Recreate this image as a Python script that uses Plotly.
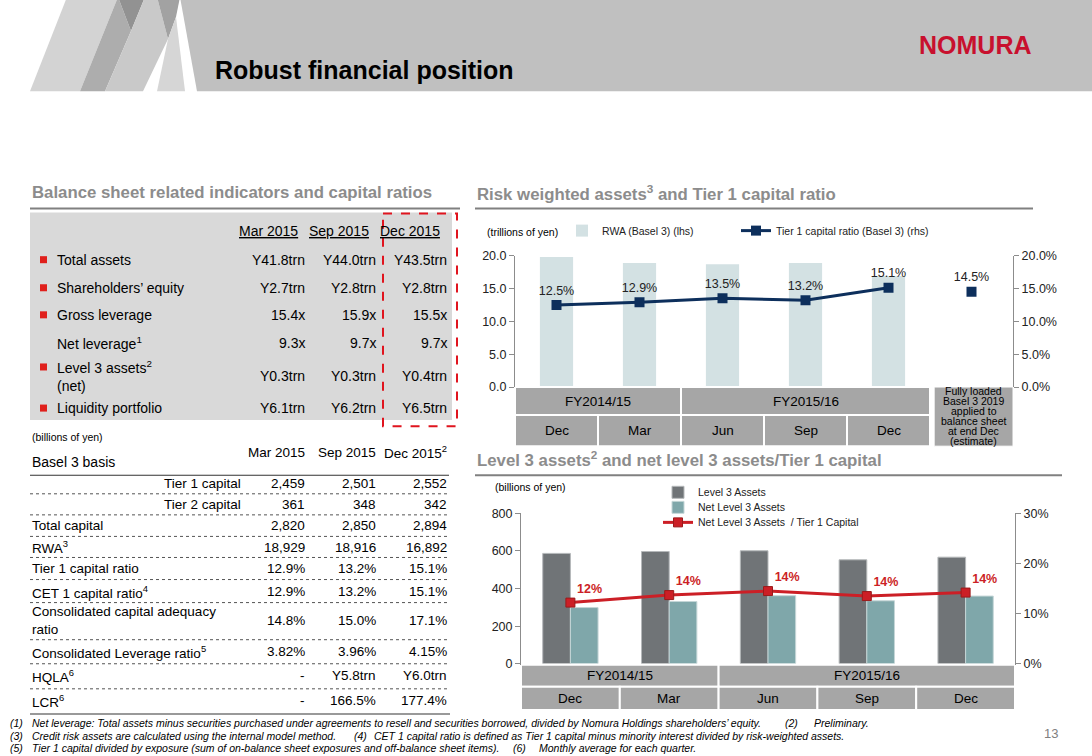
import plotly.graph_objects as go

W, H = 1092, 756          # reference picture size (all positions below are in these pixels)
FIG_H = 772               # figure height used to compensate for the page capture
def px(x): return x / W
def py(y): return 1 - y / H

FONT = "Liberation Sans, Arial, sans-serif"
NAVY = "#0d2f5c"
RED = "#cc1f26"
AXC = "#8c8c8c"
BOX = "#a6a6a6"

# ---------------- data ----------------
bs_periods = ["Mar 2015", "Sep 2015", "Dec 2015"]
bs_labels = ["Total assets", "Shareholders’ equity", "Gross leverage", "Net leverage<sup>1</sup>",
             "Level 3 assets<sup>2</sup><br>(net)", "Liquidity portfolio"]
bs_bullets = [True, True, True, False, True, True]
bs_mar = ["Y41.8trn", "Y2.7trn", "15.4x", "9.3x", "Y0.3trn", "Y6.1trn"]
bs_sep = ["Y44.0trn", "Y2.8trn", "15.9x", "9.7x", "Y0.3trn", "Y6.2trn"]
bs_dec = ["Y43.5trn", "Y2.8trn", "15.5x", "9.7x", "Y0.4trn", "Y6.5trn"]

cap_periods = ["Mar 2015", "Sep 2015", "Dec 2015<sup>2</sup>"]
cap_labels = ["Tier 1 capital", "Tier 2 capital", "Total capital", "RWA<sup>3</sup>", "Tier 1 capital ratio",
              "CET 1 capital ratio<sup>4</sup>", "Consolidated capital adequacy<br>ratio",
              "Consolidated Leverage ratio<sup>5</sup>", "HQLA<sup>6</sup>", "LCR<sup>6</sup>"]
cap_indent = [True, True, False, False, False, False, False, False, False, False]
cap_mar = ["2,459", "361", "2,820", "18,929", "12.9%", "12.9%", "14.8%", "3.82%", "-", "-"]
cap_sep = ["2,501", "348", "2,850", "18,916", "13.2%", "13.2%", "15.0%", "3.96%", "Y5.8trn", "166.5%"]
cap_dec = ["2,552", "342", "2,894", "16,892", "15.1%", "15.1%", "17.1%", "4.15%", "Y6.0trn", "177.4%"]

rwa_months = ["Dec", "Mar", "Jun", "Sep", "Dec"]
rwa_fy = ["FY2014/15", "FY2015/16"]
rwa_fy_span = [(0, 1), (2, 4)]
rwa_values = [19.8, 18.9, 18.7, 18.9, 16.9]
tier1_ratio = [12.5, 12.9, 13.5, 13.2, 15.1]
fully_loaded_ratio = 14.5
fully_loaded_label = ["Fully loaded", "Basel 3 2019", "applied to", "balance sheet", "at end Dec", "(estimate)"]
rwa_ticks = [0, 5, 10, 15, 20]
ratio_ticks = [0, 5, 10, 15, 20]

l3_months = ["Dec", "Mar", "Jun", "Sep", "Dec"]
l3_fy = ["FY2014/15", "FY2015/16"]
l3_fy_span = [(0, 1), (2, 4)]
level3_assets = [587, 597, 601, 553, 567]
net_level3_assets = [299, 331, 362, 335, 360]
net_l3_ratio = [12.2, 13.7, 14.5, 13.5, 14.2]
net_l3_labels = ["12%", "14%", "14%", "14%", "14%"]
l3_ticks = [0, 200, 400, 600, 800]
l3_ratio_ticks = [0, 10, 20, 30]

footnotes = [
    [(8, "(1)"), (30, "Net leverage: Total assets minus securities purchased under agreements to resell and securities borrowed, divided by Nomura Holdings shareholders’ equity."),
     (783, "(2)"), (812, "Preliminary.")],
    [(8, "(3)"), (30, "Credit risk assets are calculated using the internal model method."),
     (352, "(4)"), (372, "CET 1 capital ratio is defined as Tier 1 capital minus minority interest divided by risk-weighted assets.")],
    [(8, "(5)"), (30, "Tier 1 capital divided by exposure (sum of on-balance sheet exposures and off-balance sheet items)."),
     (511, "(6)"), (537, "Monthly average for each quarter.")],
]

# ---------------- figure ----------------
fig = go.Figure()
shapes = []
ann = []

def text(x, y, s, size=14, anchor="left", color="black", family=FONT, yanchor="middle", **kw):
    ann.append(dict(x=px(x), y=py(y), xref="paper", yref="paper", text=s, showarrow=False,
                    xanchor=anchor, yanchor=yanchor, align=anchor if anchor != "center" else "center",
                    font=dict(size=size, color=color, family=family), **kw))

def poly(points, color, layer="below"):
    path = "M " + " L ".join(f"{px(a)},{py(b)}" for a, b in points) + " Z"
    shapes.append(dict(type="path", path=path, xref="paper", yref="paper", fillcolor=color,
                       line=dict(width=0), layer=layer))

def hline(x0, x1, y, color, width=1, dash="solid"):
    shapes.append(dict(type="line", xref="paper", yref="paper", x0=px(x0), x1=px(x1), y0=py(y), y1=py(y),
                       line=dict(color=color, width=width, dash=dash)))

def rect(x0, x1, y0, y1, fill, line_color=None, lw=0, dash="solid"):
    shapes.append(dict(type="rect", xref="paper", yref="paper", x0=px(x0), x1=px(x1), y0=py(y0), y1=py(y1),
                       fillcolor=fill, line=dict(color=line_color or "rgba(0,0,0,0)", width=lw, dash=dash)))

# header decoration
poly([(180, -2), (1092, -2), (1092, 92), (197, 92)], "#c0c0c0")
poly([(30, 92), (67, -2), (118, -2), (80, 92)], "#d3d3d3")
poly([(80, 92), (118, -2), (131, 32), (105, 92)], "#adadad")
poly([(118, -2), (145, -2), (131, 32)], "#929292")
poly([(105, 92), (131, 32), (145, -2), (157, -2), (168, 40), (143, 92)], "#c9c9c9")
poly([(157, -2), (180, -2), (176, 18), (168, 40)], "#a2a2a2")
poly([(157, 92), (168, 40), (176, 18), (185, 92)], "#d6d6d6")
text(213, 71, "<b>Robust financial position</b>", size=25)
text(975, 46, "<b>NOMURA</b>", size=25, anchor="center", color="#c8102e")

# section titles
text(30, 193, "<b>Balance sheet related indicators and capital ratios</b>", size=16.8, color="#8c8c8c")
hline(30, 460, 209, "#808080", 2)
text(475, 193, "<b>Risk weighted assets<sup>3</sup> and Tier 1 capital ratio</b>", size=16.8, color="#8c8c8c")
hline(475, 1033, 209, "#808080", 2)
text(475, 459, "<b>Level 3 assets<sup>2</sup> and net level 3 assets/Tier 1 capital</b>", size=16.8, color="#8c8c8c")
hline(475, 1062, 475, "#808080", 2)

# ---- table 1 ----
rect(30, 452, 213, 420, "#d9d9d9")
rect(383, 457, 214, 426, "rgba(0,0,0,0)", "#e0141e", 2, "dash")
col_r = [307, 378, 449]
hdr_r = [300, 371, 442]
for i, p in enumerate(bs_periods):
    text(hdr_r[i], 231, f"<u>{p}</u>", size=14, anchor="right")
row_y1 = [260, 288, 315, 343, 376, 408]
for i, lab in enumerate(bs_labels):
    y = row_y1[i]
    text(55, y, lab, size=14)
    if bs_bullets[i]:
        by = y - 9 if "<br>" in lab else y
        rect(40, 47, by - 3.5, by + 3.5, "#e0201c")
    for j, vals in enumerate([bs_mar, bs_sep, bs_dec]):
        text(col_r[j], y, vals[i], size=14, anchor="right")

# ---- table 2 ----
text(30, 437, "(billions of yen)", size=10.5)
text(30, 462, "Basel 3 basis", size=14)
for j, p in enumerate(cap_periods):
    text(col_r[j], 452, p, size=13.5, anchor="right")
hline(30, 449, 475, "#333333", 1.2)
row_y2 = [483, 504, 525, 547, 568, 591, 620, 651, 675, 700]
sep_y2 = [493.5, 514.5, 536, 557, 579, 602, 639, 663, 688]
for i, lab in enumerate(cap_labels):
    y = row_y2[i]
    if cap_indent[i]:
        text(243, y, lab, size=13.5, anchor="right")
    else:
        text(30, y, lab, size=13.5)
    for j, vals in enumerate([cap_mar, cap_sep, cap_dec]):
        text(col_r[j], y, vals[i], size=13.5, anchor="right")
for y in sep_y2:
    hline(30, 449, y, "#555555", 1, "dot")
hline(30, 450, 713, "#999999", 2)

# ---- chart 1: RWA ----
xs = list(range(len(rwa_values)))
fig.add_trace(go.Bar(x=xs, y=rwa_values, name="RWA (Basel 3) (lhs)", width=0.4,
                     marker=dict(color="#d3e1e3", line=dict(width=0)), xaxis="x", yaxis="y", legend="legend"))
fig.add_trace(go.Scatter(x=xs, y=tier1_ratio, name="Tier 1 capital ratio (Basel 3) (rhs)",
                         mode="lines+markers+text", text=[f"{v:.1f}%" for v in tier1_ratio],
                         textposition="top center", textfont=dict(size=12.5, color="#222", family=FONT),
                         line=dict(color=NAVY, width=3), marker=dict(symbol="square", size=10, color=NAVY),
                         xaxis="x", yaxis="y2", legend="legend5"))
fig.add_trace(go.Scatter(x=[len(rwa_values)], y=[fully_loaded_ratio], mode="markers+text",
                         text=[f"{fully_loaded_ratio:.1f}%"], textposition="top center",
                         textfont=dict(size=12.5, color="#222", family=FONT),
                         marker=dict(symbol="square", size=10, color=NAVY), showlegend=False,
                         xaxis="x", yaxis="y2"))

def boxes(xref, months, fy, spans, y_top, y_mid, y_bot, size=13.5):
    for k, (a, b) in enumerate(spans):
        shapes.append(dict(type="rect", xref=xref, yref="paper", x0=a - 0.5, x1=b + 0.5, y0=py(y_top), y1=py(y_mid),
                           fillcolor=BOX, line=dict(color="white", width=2)))
        ann.append(dict(x=(a + b) / 2, y=py((y_top + y_mid) / 2), xref=xref, yref="paper", text=fy[k],
                        showarrow=False, yanchor="middle", font=dict(size=size, color="black", family=FONT)))
    for i, m in enumerate(months):
        shapes.append(dict(type="rect", xref=xref, yref="paper", x0=i - 0.5, x1=i + 0.5, y0=py(y_mid), y1=py(y_bot),
                           fillcolor=BOX, line=dict(color="white", width=2)))
        ann.append(dict(x=i, y=py((y_mid + y_bot) / 2), xref=xref, yref="paper", text=m,
                        showarrow=False, yanchor="middle", font=dict(size=size, color="black", family=FONT)))

boxes("x", rwa_months, rwa_fy, rwa_fy_span, 387, 415, 446)
nfl = len(rwa_values)
shapes.append(dict(type="rect", xref="x", yref="paper", x0=nfl - 0.45, x1=nfl + 0.5, y0=py(387), y1=py(446),
                   fillcolor=BOX, line=dict(color="white", width=1)))
for k, s in enumerate(fully_loaded_label):
    ann.append(dict(x=nfl + 0.025, y=py(391 + k * 9.9), xref="x", yref="paper", text=s, showarrow=False,
                    yanchor="middle", font=dict(size=10.5, color="black", family=FONT)))
text(485, 232, "(trillions of yen)", size=10.5)

# ---- chart 2: Level 3 ----
xs2 = list(range(len(level3_assets)))
fig.add_trace(go.Bar(x=xs2, y=level3_assets, name="Level 3 Assets", width=0.28, offset=-0.28,
                     marker=dict(color="#707477", line=dict(color="#b5b8ba", width=1)),
                     xaxis="x3", yaxis="y3", legend="legend2"))
fig.add_trace(go.Bar(x=xs2, y=net_level3_assets, name="Net Level 3 Assets", width=0.28, offset=0,
                     marker=dict(color="#7fa7aa", line=dict(color="#c5d6d7", width=1)),
                     xaxis="x3", yaxis="y3", legend="legend3"))
fig.add_trace(go.Scatter(x=xs2, y=net_l3_ratio, name="Net Level 3 Assets  / Tier 1 Capital",
                         mode="lines+markers+text", text=[f"<b>{t}</b>" for t in net_l3_labels],
                         textposition="top right", textfont=dict(size=12.5, color=RED, family=FONT),
                         line=dict(color=RED, width=3),
                         marker=dict(symbol="square", size=9, color=RED, line=dict(color="#9a1a1a", width=1)),
                         xaxis="x3", yaxis="y4", legend="legend4"))
boxes("x3", l3_months, l3_fy, l3_fy_span, 664, 686, 709)
text(493, 487, "(billions of yen)", size=10.5)

# footnotes
for k, line in enumerate(footnotes):
    for x, s in line:
        text(x, 722 + k * 12.6, f"<i>{s}</i>", size=10.5, family=FONT)
text(1051, 733, "13", size=13, anchor="center", color="#808080")

tick_font = dict(size=12.5, color="#222", family=FONT)
common_y = dict(showgrid=False, zeroline=False, showline=True, linecolor=AXC, ticks="outside",
                ticklen=5, tickcolor=AXC, tickfont=tick_font, tickmode="array")

leg_font = dict(size=10.5, family=FONT, color="#222")
def one_legend(x, y):
    return dict(orientation="v", x=px(x), y=py(y), xanchor="left", yanchor="middle",
                font=leg_font, bgcolor="rgba(0,0,0,0)", borderwidth=0)

fig.update_layout(
    width=W, height=FIG_H, margin=dict(l=0, r=0, t=0, b=0),
    paper_bgcolor="white", plot_bgcolor="rgba(0,0,0,0)",
    font=dict(family=FONT, color="black"),
    barmode="overlay",
    xaxis=dict(domain=[px(515), px(1013)], range=[-0.5, 5.5], visible=False, anchor="y"),
    yaxis=dict(domain=[py(387), py(256)], range=[0, 20], tickvals=rwa_ticks,
               ticktext=[f"{v:.1f}" for v in rwa_ticks], anchor="x", **common_y),
    yaxis2=dict(overlaying="y", side="right", anchor="x", range=[0, 20], tickvals=ratio_ticks,
                ticktext=[f"{v:.1f}%" for v in ratio_ticks], **common_y),
    xaxis3=dict(domain=[px(521), px(1015)], range=[-0.5, 4.5], showticklabels=False, showgrid=False,
                zeroline=False, showline=True, linecolor=AXC, ticks="", anchor="y3"),
    yaxis3=dict(domain=[py(663), py(513)], range=[0, 800], tickvals=l3_ticks,
                ticktext=[str(v) for v in l3_ticks], anchor="x3", **common_y),
    yaxis4=dict(overlaying="y3", side="right", anchor="x3", range=[0, 30], tickvals=l3_ratio_ticks,
                ticktext=[f"{v}%" for v in l3_ratio_ticks], **common_y),
    legend=one_legend(562, 231),
    legend5=one_legend(736, 231),
    legend2=one_legend(658, 492),
    legend3=one_legend(658, 507),
    legend4=one_legend(658, 522),
    shapes=shapes, annotations=ann,
)

post = ("document.documentElement.style.margin='0';document.body.style.margin='0';"
        "document.documentElement.style.overflow='hidden';document.body.style.overflow='hidden';"
        "var d=document.getElementById('{plot_id}');d.style.position='absolute';"
        "d.style.left='0px';d.style.top='-8px';")
fig.write_html("out.html", post_script=post, config={"displayModeBar": False})
